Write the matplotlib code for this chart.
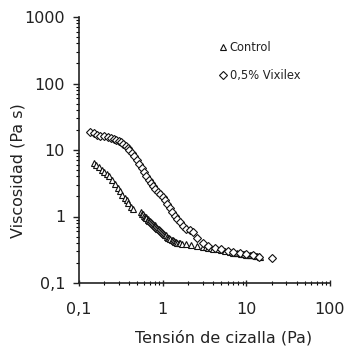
import matplotlib
matplotlib.use("Agg")
import matplotlib.pyplot as plt
from matplotlib.ticker import FixedLocator, FixedFormatter, LogLocator, NullFormatter

plt.rcParams["font.family"] = ["DejaVu Sans"]

# 0,5% Vixilex
vix_x = [0.135, 0.15, 0.165, 0.18, 0.2, 0.22, 0.24, 0.26, 0.28, 0.3, 0.32, 0.34, 0.36, 0.38,
         0.40, 0.43, 0.46, 0.49, 0.52, 0.56, 0.60, 0.64, 0.68, 0.72, 0.77, 0.82, 0.88, 0.94,
         1.0, 1.07, 1.14, 1.22, 1.3, 1.4, 1.5, 1.6, 1.75, 1.9, 2.1, 2.3, 2.6, 3.0, 3.5, 4.2,
         5.0, 6.0, 7.0, 8.5, 10, 12, 14, 20]
vix_y = [18.5, 17.8, 17.0, 16.5, 16.0, 15.5, 15.0, 14.5, 14.0, 13.5, 13.0, 12.3, 11.5, 10.8,
         10.0, 9.0, 8.0, 7.0, 6.2, 5.4, 4.7, 4.1, 3.6, 3.2, 2.9, 2.6, 2.35, 2.15,
         1.95, 1.75, 1.55, 1.35, 1.18, 1.03, 0.92, 0.82, 0.72, 0.66, 0.62, 0.58, 0.48, 0.40, 0.36, 0.34,
         0.32, 0.30, 0.29, 0.28, 0.27, 0.26, 0.25, 0.24]

# Control
ctl_x = [0.15, 0.16, 0.175, 0.19, 0.2, 0.215, 0.23, 0.25, 0.27, 0.29, 0.31, 0.33, 0.35, 0.37,
         0.39, 0.42, 0.44, 0.55, 0.57, 0.58, 0.60, 0.61, 0.63, 0.64, 0.66, 0.67, 0.69, 0.7, 0.72,
         0.74, 0.76, 0.78, 0.80, 0.82, 0.84, 0.86, 0.88, 0.9, 0.93, 0.95, 0.98, 1.0, 1.03, 1.06,
         1.09, 1.12, 1.16, 1.2, 1.24, 1.28, 1.32, 1.36, 1.4, 1.45, 1.5, 1.55, 1.62, 1.7, 1.9,
         2.2, 2.6, 3.0, 3.3, 3.5, 3.8, 4.0, 4.5, 5.0, 5.6, 6.3, 7.0, 7.4, 7.8, 8.2, 8.6, 9.0,
         9.5, 10.0, 10.5, 11.0, 11.5, 12.0, 12.5, 13.0, 13.5, 14.0, 14.5]
ctl_y = [6.3, 6.0, 5.5, 5.0, 4.7, 4.4, 4.0, 3.5, 3.1, 2.7, 2.4, 2.1, 1.9, 1.75,
         1.6, 1.4, 1.3, 1.15, 1.1, 1.08, 1.03, 1.0, 0.97, 0.95, 0.92, 0.9, 0.87, 0.85, 0.82,
         0.8, 0.77, 0.75, 0.74, 0.72, 0.7, 0.68, 0.66, 0.65, 0.62, 0.6, 0.59, 0.57, 0.55, 0.53,
         0.52, 0.5, 0.48, 0.47, 0.46, 0.45, 0.44, 0.43, 0.42, 0.41, 0.405, 0.40, 0.395, 0.39, 0.38,
         0.37, 0.36, 0.35, 0.345, 0.34, 0.335, 0.33, 0.32, 0.31, 0.30, 0.29, 0.285, 0.283, 0.28, 0.278, 0.275, 0.272,
         0.27, 0.268, 0.265, 0.263, 0.26, 0.26, 0.26, 0.257, 0.255, 0.253, 0.25]

x_ticks = [0.1, 1, 10, 100]
x_labels = ["0,1", "1", "10", "100"]
y_ticks = [0.1, 1, 10, 100, 1000]
y_labels = ["0,1", "1", "10", "100", "1000"]

txt = "#222222"

fig = plt.figure(figsize=(3.45, 3.47), dpi=100)
ax = fig.add_axes([79 / 345, 1 - 283 / 347, 251 / 345, 266 / 347])

ax.plot(ctl_x, ctl_y, linestyle="none", marker="^", markersize=4.5,
        markerfacecolor="white", markeredgecolor="#111111", markeredgewidth=0.8, label="Control")
ax.plot(vix_x, vix_y, linestyle="none", marker="D", markersize=3.8,
        markerfacecolor="white", markeredgecolor="#111111", markeredgewidth=0.8, label="0,5% Vixilex")

ax.set_xscale("log")
ax.set_yscale("log")
ax.set_xlim(0.1, 100)
ax.set_ylim(0.1, 1000)

ax.xaxis.set_major_locator(FixedLocator(x_ticks))
ax.xaxis.set_major_formatter(FixedFormatter(x_labels))
ax.yaxis.set_major_locator(FixedLocator(y_ticks))
ax.yaxis.set_major_formatter(FixedFormatter(y_labels))
ax.xaxis.set_minor_locator(LogLocator(base=10, subs=range(2, 10)))
ax.yaxis.set_minor_locator(LogLocator(base=10, subs=range(2, 10)))
ax.xaxis.set_minor_formatter(NullFormatter())
ax.yaxis.set_minor_formatter(NullFormatter())

for s in ["top", "right"]:
    ax.spines[s].set_visible(False)
for s in ["left", "bottom"]:
    ax.spines[s].set_linewidth(1.2)
    ax.spines[s].set_color("#222222")

ax.tick_params(axis="x", which="major", direction="inout", length=5, width=1, pad=11,
               labelsize=11.5, colors=txt)
ax.tick_params(axis="x", which="minor", direction="inout", length=3, width=0.8)
ax.tick_params(axis="y", which="major", direction="out", length=4, width=1, pad=6,
               labelsize=11.5, colors=txt)
ax.tick_params(axis="y", which="minor", direction="out", length=2.5, width=0.8)

ax.set_xlabel("Tensión de cizalla (Pa)", fontsize=11.5, color=txt, va="center")
ax.xaxis.set_label_coords(0.574, -0.207)
ax.set_ylabel("Viscosidad (Pa s)", fontsize=11.5, color=txt, va="center")
ax.yaxis.set_label_coords(-0.243, 0.421)

ax.legend(loc="upper left", bbox_to_anchor=(213 / 345, 1 - 35 / 347), bbox_transform=fig.transFigure,
          frameon=False, fontsize=8.3, labelspacing=1.35, handlelength=0.7, handletextpad=0.25,
          borderpad=0, labelcolor=txt)

fig.savefig("out.png", dpi=100)
